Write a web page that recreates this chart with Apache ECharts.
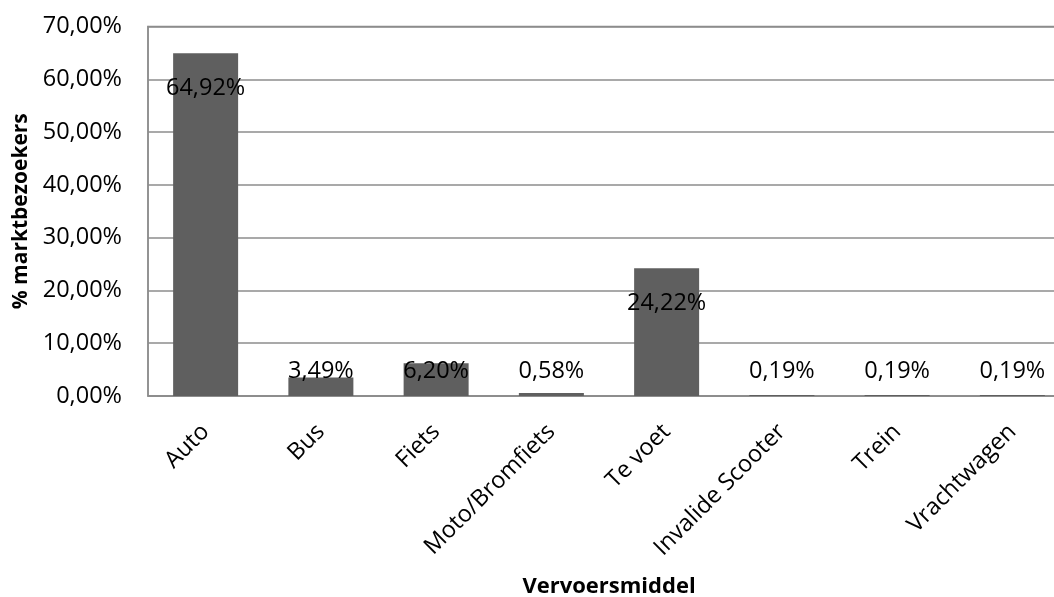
<!DOCTYPE html>
<html>
<head>
<meta charset="utf-8">
<style>
  html, body { margin: 0; padding: 0; background: #ffffff; }
  #chart { width: 1054px; height: 597px; }
</style>
<script src="https://cdn.jsdelivr.net/npm/echarts@6/dist/echarts.min.js"></script>
</head>
<body>
<div id="chart"></div>
<script>
// Vervoersmiddel van marktbezoekers (aandeel in %)
const categories = ['Auto', 'Bus', 'Fiets', 'Moto/Bromfiets', 'Te voet', 'Invalide Scooter', 'Trein', 'Vrachtwagen'];
const shares = [64.92, 3.49, 6.20, 0.58, 24.22, 0.19, 0.19, 0.19];
const yTicks = { min: 0, max: 70, step: 10 };

const FONT = '"Open Sans", "DejaVu Sans", sans-serif';
const fmtPct = v => v.toFixed(2).replace('.', ',') + '%';

// Tall bars carry their value inside the top end; short bars get it just above the axis.
const barData = shares.map(v => ({
  value: v,
  label: v > 10
    ? { position: 'insideTop', distance: 23 }
    : { position: 'insideBottom', distance: 13 }
}));

const chart = echarts.init(document.getElementById('chart'), null, { renderer: 'canvas' });
chart.setOption({
  animation: false,
  backgroundColor: '#ffffff',
  grid: {
    left: 148, top: 26.5, width: 922, height: 369.5,
    outerBoundsMode: 'none', containLabel: false,
    show: true, borderColor: '#8c8c8c', borderWidth: 1.5
  },
  xAxis: {
    type: 'category',
    data: categories,
    name: 'Vervoersmiddel',
    nameLocation: 'middle',
    nameGap: 180,
    nameTextStyle: { fontFamily: FONT, fontSize: 22, fontWeight: 'bold', color: '#000' },
    axisLine: { show: true, lineStyle: { color: '#8c8c8c', width: 1.5 } },
    axisTick: { show: false },
    axisLabel: { rotate: 45, margin: 32, interval: 0, color: '#000', fontFamily: FONT, fontSize: 23.5 }
  },
  yAxis: {
    type: 'value',
    min: yTicks.min,
    max: yTicks.max,
    interval: yTicks.step,
    name: '% marktbezoekers',
    nameLocation: 'middle',
    nameGap: 114,
    nameTextStyle: { fontFamily: FONT, fontSize: 21, fontWeight: 'bold', color: '#000' },
    axisLine: { show: true, lineStyle: { color: '#8c8c8c', width: 1.5 } },
    axisTick: { show: false },
    splitLine: { show: true, lineStyle: { color: '#8c8c8c', width: 1.5 } },
    axisLabel: { margin: 26, color: '#000', fontFamily: FONT, fontSize: 23.5, formatter: v => fmtPct(v) }
  },
  series: [{
    type: 'bar',
    data: barData,
    barWidth: 65,
    itemStyle: { color: '#5f5f5f' },
    label: {
      show: true,
      color: '#000',
      fontFamily: FONT,
      fontSize: 23.5,
      formatter: p => fmtPct(p.value)
    }
  }]
});
</script>
</body>
</html>
